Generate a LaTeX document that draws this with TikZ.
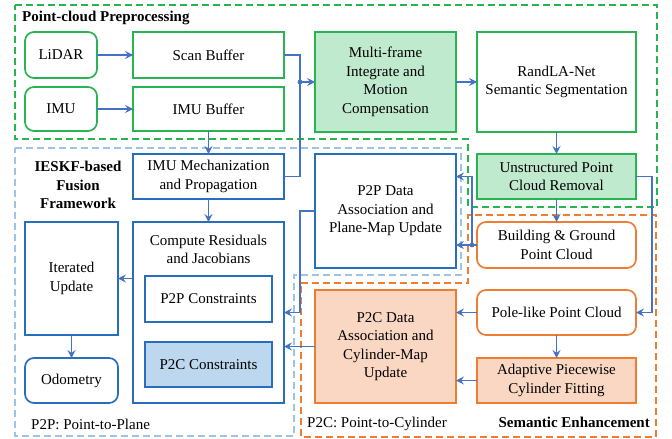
\documentclass[tikz,border=0pt]{standalone}
\usepackage{fontspec}
\setmainfont{Liberation Serif}
\usetikzlibrary{arrows.meta}
\definecolor{gline}{RGB}{40,180,80}
\definecolor{gfillc}{RGB}{192,234,206}
\definecolor{bline}{RGB}{40,110,190}
\definecolor{bfillc}{RGB}{189,215,238}
\definecolor{oline}{RGB}{237,125,49}
\definecolor{ofillc}{RGB}{250,215,195}
\definecolor{arrc}{RGB}{68,114,196}
\definecolor{lbdash}{RGB}{157,195,230}
\tikzset{
  box/.style={draw, line width=1.7pt, fill=white, inner sep=0pt, outer sep=0pt, align=center, font=\fontsize{15}{18.5}\selectfont},
  gbox/.style={box, draw=gline},
  gfbox/.style={box, draw=gline, fill=gfillc},
  bbox/.style={box, draw=bline},
  bfbox/.style={box, draw=bline, fill=bfillc},
  obox/.style={box, draw=oline},
  ofbox/.style={box, draw=oline, fill=ofillc},
  rnd/.style={rounded corners=9pt},
  sz/.style 2 args={minimum width=#1pt, minimum height=#2pt},
  ln/.style={draw=arrc, line width=1.1pt},
  arr/.style={ln, -{Stealth[length=8pt,width=8pt,inset=3pt]}},
  region/.style={line width=1.5pt, dash pattern=on 7pt off 4pt},
  lbl/.style={inner sep=0pt, font=\fontsize{15}{18.5}\selectfont},
  blbl/.style={inner sep=0pt, align=center, font=\fontsize{15}{18.5}\selectfont\bfseries},
}
\begin{document}
\begin{tikzpicture}[x=1pt,y=-1pt]
\useasboundingbox (0,0) rectangle (672,439);
% regions
\draw[region, draw=gline] (15,5) -- (657,5) -- (657,207) -- (468,207) -- (468,139) -- (15,139) -- cycle;
\draw[region, draw=lbdash] (15,148) -- (461,148) -- (461,275) -- (294,275) -- (294,436) -- (15,436) -- cycle;
\draw[region, draw=oline] (301,283) -- (468,283) -- (468,215) -- (656,215) -- (656,437) -- (301,437) -- cycle;
% labels
\node[lbl, font=\fontsize{15}{18.5}\selectfont\bfseries, anchor=west] (t1) at (22,18) {Point-cloud Preprocessing};
\node[blbl] (t2) at (78,185) {IESKF-based\\Fusion\\Framework};
\node[lbl, anchor=west] (t3) at (31,424) {P2P: Point-to-Plane};
\node[lbl, anchor=west] (t4) at (307,424) {P2C: Point-to-Cylinder};
\node[blbl, anchor=east] (t5) at (650,422) {Semantic Enhancement};
% nodes
\node[gbox, rnd, sz={72}{46}] (lidar) at (61,55) {LiDAR};
\node[gbox, rnd, sz={72}{44}] (imu) at (61,109) {IMU};
\node[gbox, sz={151}{46}] (scan) at (208.5,55) {Scan Buffer};
\node[gbox, sz={151}{44}] (imubuf) at (208.5,109) {IMU Buffer};
\node[gfbox, sz={141}{100}] (multi) at (385.5,82) {Multi-frame\\Integrate and\\Motion\\Compensation};
\node[gbox, sz={159}{100}] (randla) at (556.5,82) {RandLA-Net\\Semantic Segmentation};
\node[gfbox, sz={159}{45}] (unstr) at (556.5,176.5) {Unstructured Point\\Cloud Removal};
\node[obox, rnd, sz={159}{46}] (build) at (556.5,245) {Building \& Ground\\Point Cloud};
\node[obox, rnd, sz={159}{45}] (pole) at (556.5,312.5) {Pole-like Point Cloud};
\node[ofbox, sz={159}{45}] (adapt) at (556.5,380.5) {Adaptive Piecewise\\Cylinder Fitting};
\node[ofbox, sz={141}{113}] (p2cdata) at (385.5,346.5) {P2C Data\\Association and\\Cylinder-Map\\Update};
\node[bbox, sz={141}{114}] (p2pdata) at (385.5,211) {P2P Data\\Association and\\Plane-Map Update};
\node[bbox, sz={151}{45}] (imumech) at (208.5,176.5) {IMU Mechanization\\and Propagation};
\node[bbox, sz={151}{181}] (compute) at (208.5,312.5) {};
\node[lbl, align=center] (computetxt) at (208.5,249.5) {Compute Residuals\\and Jacobians};
\node[bbox, sz={127}{46}] (p2pc) at (208.5,299) {P2P Constraints};
\node[bfbox, sz={127}{45}] (p2cc) at (208.5,364.5) {P2C Constraints};
\node[bbox, sz={93}{113}] (iter) at (71.5,278.5) {Iterated\\Update};
\node[bbox, rnd, sz={93}{45}] (odo) at (71.5,380.5) {Odometry};
% connectors
\draw[arr] (lidar) -- (scan);
\draw[arr] (imu) -- (imubuf);
\coordinate (j1) at (300,82);
\draw[ln] (scan.east) -| (j1);
\draw[ln] (imumech.east) -| (j1);
\fill[arrc] (j1) circle (2.4);
\draw[arr] (j1) -- (multi.west |- j1);
\draw[arr] (imubuf) -- (imumech);
\draw[arr] (imumech) -- (compute);
\draw[arr] (compute.west |- iter) -- (iter.east);
\draw[arr] (iter) -- (odo);
\draw[arr] (multi) -- (randla);
\draw[arr] (randla) -- (unstr);
\draw[arr] (unstr) -- (build);
\draw[arr] (unstr.east) -- ++(16,0) |- (pole.east);
\coordinate (j3) at (472,245);
\draw[arr] (build.west) -- (p2pdata.east |- build);
\draw[arr] (j3) |- (p2pdata.east |- unstr);
\fill[arrc] (j3) circle (2.4);
\draw[arr] (p2pdata.west) -- ++(-15,0) |- (compute.east |- pole);
\draw[arr] (p2cdata.west) -- (compute.east |- p2cdata);
\draw[arr] (pole) -- (p2cdata.east |- pole);
\draw[arr] (adapt) -- (p2cdata.east |- adapt);
\draw[arr] (pole) -- (adapt);
\end{tikzpicture}
\end{document}
